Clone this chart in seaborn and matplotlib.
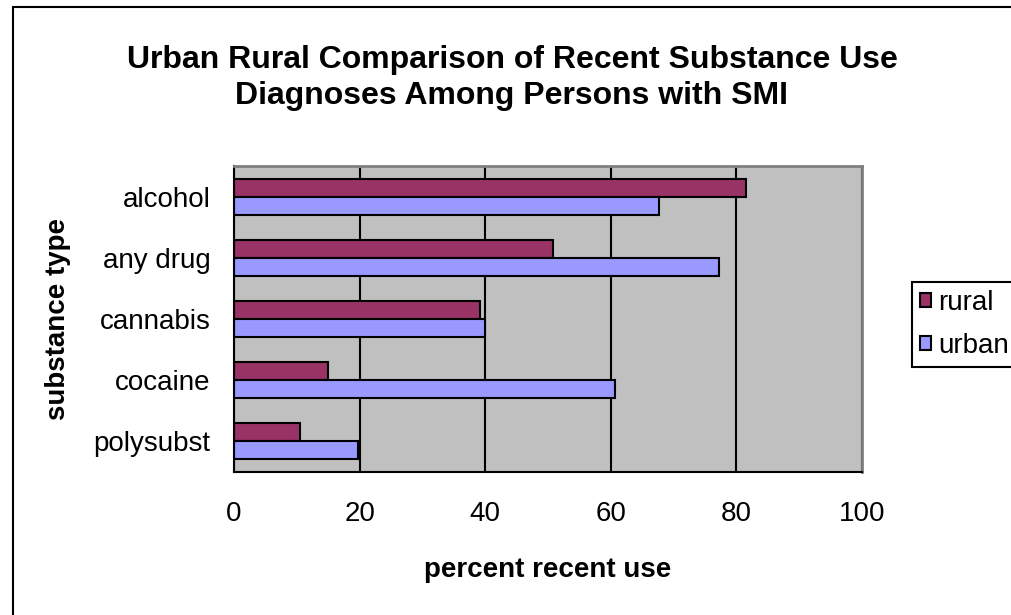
import matplotlib
matplotlib.use("Agg")
import matplotlib.pyplot as plt
import seaborn as sns
import pandas as pd
from matplotlib.patches import Rectangle

# Data
substances = ["alcohol", "any drug", "cannabis", "cocaine", "polysubst"]
rural = [81.6, 50.8, 39.2, 15.0, 10.5]
urban = [67.6, 77.2, 39.9, 60.7, 19.7]
areas = ["rural", "urban"]
area_colors = ["#993366", "#9999FF"]
x_ticks = [0, 20, 40, 60, 80, 100]

df = pd.DataFrame({
    "substance": substances * 2,
    "percent": rural + urban,
    "area": [areas[0]] * len(rural) + [areas[1]] * len(urban),
})

sns.set_style("white")
plt.rcParams["font.family"] = ["Liberation Sans", "DejaVu Sans"]
plt.rcParams.update({
    "text.color": "black",
    "axes.labelcolor": "black",
    "xtick.color": "black",
    "ytick.color": "black",
    "xtick.labelcolor": "black",
    "ytick.labelcolor": "black",
})

W, H = 1012, 615
fig = plt.figure(figsize=(W / 100, H / 100), dpi=100)
fig.patch.set_facecolor("white")

# plot area in pixel bounds
px_l, px_r, px_t, px_b = 234, 862, 166, 472
ax = fig.add_axes([px_l / W, 1 - px_b / H, (px_r - px_l) / W, (px_b - px_t) / H])
ax.set_facecolor("#C0C0C0")

sns.barplot(
    data=df, y="substance", x="percent", hue="area",
    order=substances, hue_order=areas, palette=area_colors,
    orient="h", width=0.59, edgecolor="black", linewidth=1.5,
    saturation=1, ax=ax,
)

ax.set_xlim(0, 100)
ax.set_ylim(len(substances) - 0.5, -0.5)
ax.set_axisbelow(True)
ax.xaxis.grid(True, color="black", linewidth=1.5)
ax.yaxis.grid(False)

for side in ("left", "bottom"):
    ax.spines[side].set_color("black")
    ax.spines[side].set_linewidth(1.5)
for side in ("top", "right"):
    ax.spines[side].set_color("#808080")
    ax.spines[side].set_linewidth(2)

ax.set_xticks(x_ticks)
ax.set_xticklabels([str(v) for v in x_ticks])
ax.tick_params(axis="x", direction="out", length=7.2, width=1.5, color="black",
               labelcolor="black", labelsize=20, pad=14)

ax.set_yticks(range(len(substances)))
ax.set_yticklabels(substances)
ax.set_yticks([i - 0.5 for i in range(len(substances) + 1)], minor=True)
ax.tick_params(axis="y", which="major", length=0, labelsize=20, pad=17,
               labelcolor="black")
ax.tick_params(axis="y", which="minor", direction="out", length=7.2, width=1.5,
               color="black")
ax.tick_params(axis="x", which="minor", length=0)

ax.set_xlabel("percent recent use", fontsize=20, fontweight="bold", color="black")
ax.xaxis.set_label_coords(0.5, (px_b - 577) / (px_b - px_t))
ax.xaxis.label.set_verticalalignment("baseline")
ax.set_ylabel("substance type", fontsize=20, fontweight="bold", color="black")
ax.yaxis.set_label_coords((58 - px_l) / (px_r - px_l), 0.5)
ax.yaxis.label.set_verticalalignment("center")

fig.text(512 / W, 1 - 78 / H,
         "Urban Rural Comparison of Recent Substance Use\nDiagnoses Among Persons with SMI",
         ha="center", va="center", fontsize=23, fontweight="bold", linespacing=1.3,
         color="black")

# legend
handles, labels = ax.get_legend_handles_labels()
if ax.get_legend() is not None:
    ax.get_legend().remove()
leg = fig.legend(handles, labels, loc="lower left",
                 bbox_to_anchor=(912 / W, 1 - 367 / H), bbox_transform=fig.transFigure,
                 fontsize=20, frameon=True, fancybox=False, framealpha=1,
                 edgecolor="black", handlelength=0.4, handleheight=0.4,
                 handletextpad=0.25, labelspacing=0.6, borderpad=0.3,
                 borderaxespad=0, labelcolor="black")
leg.get_frame().set_linewidth(1.5)

# chart area border
fig.patches.append(Rectangle((13 / W, -0.2), 1.2, 1.2 - 7 / H,
                             transform=fig.transFigure, fill=False,
                             edgecolor="black", linewidth=1.5, clip_on=False))

fig.savefig("out.png", dpi=100, facecolor="white")
